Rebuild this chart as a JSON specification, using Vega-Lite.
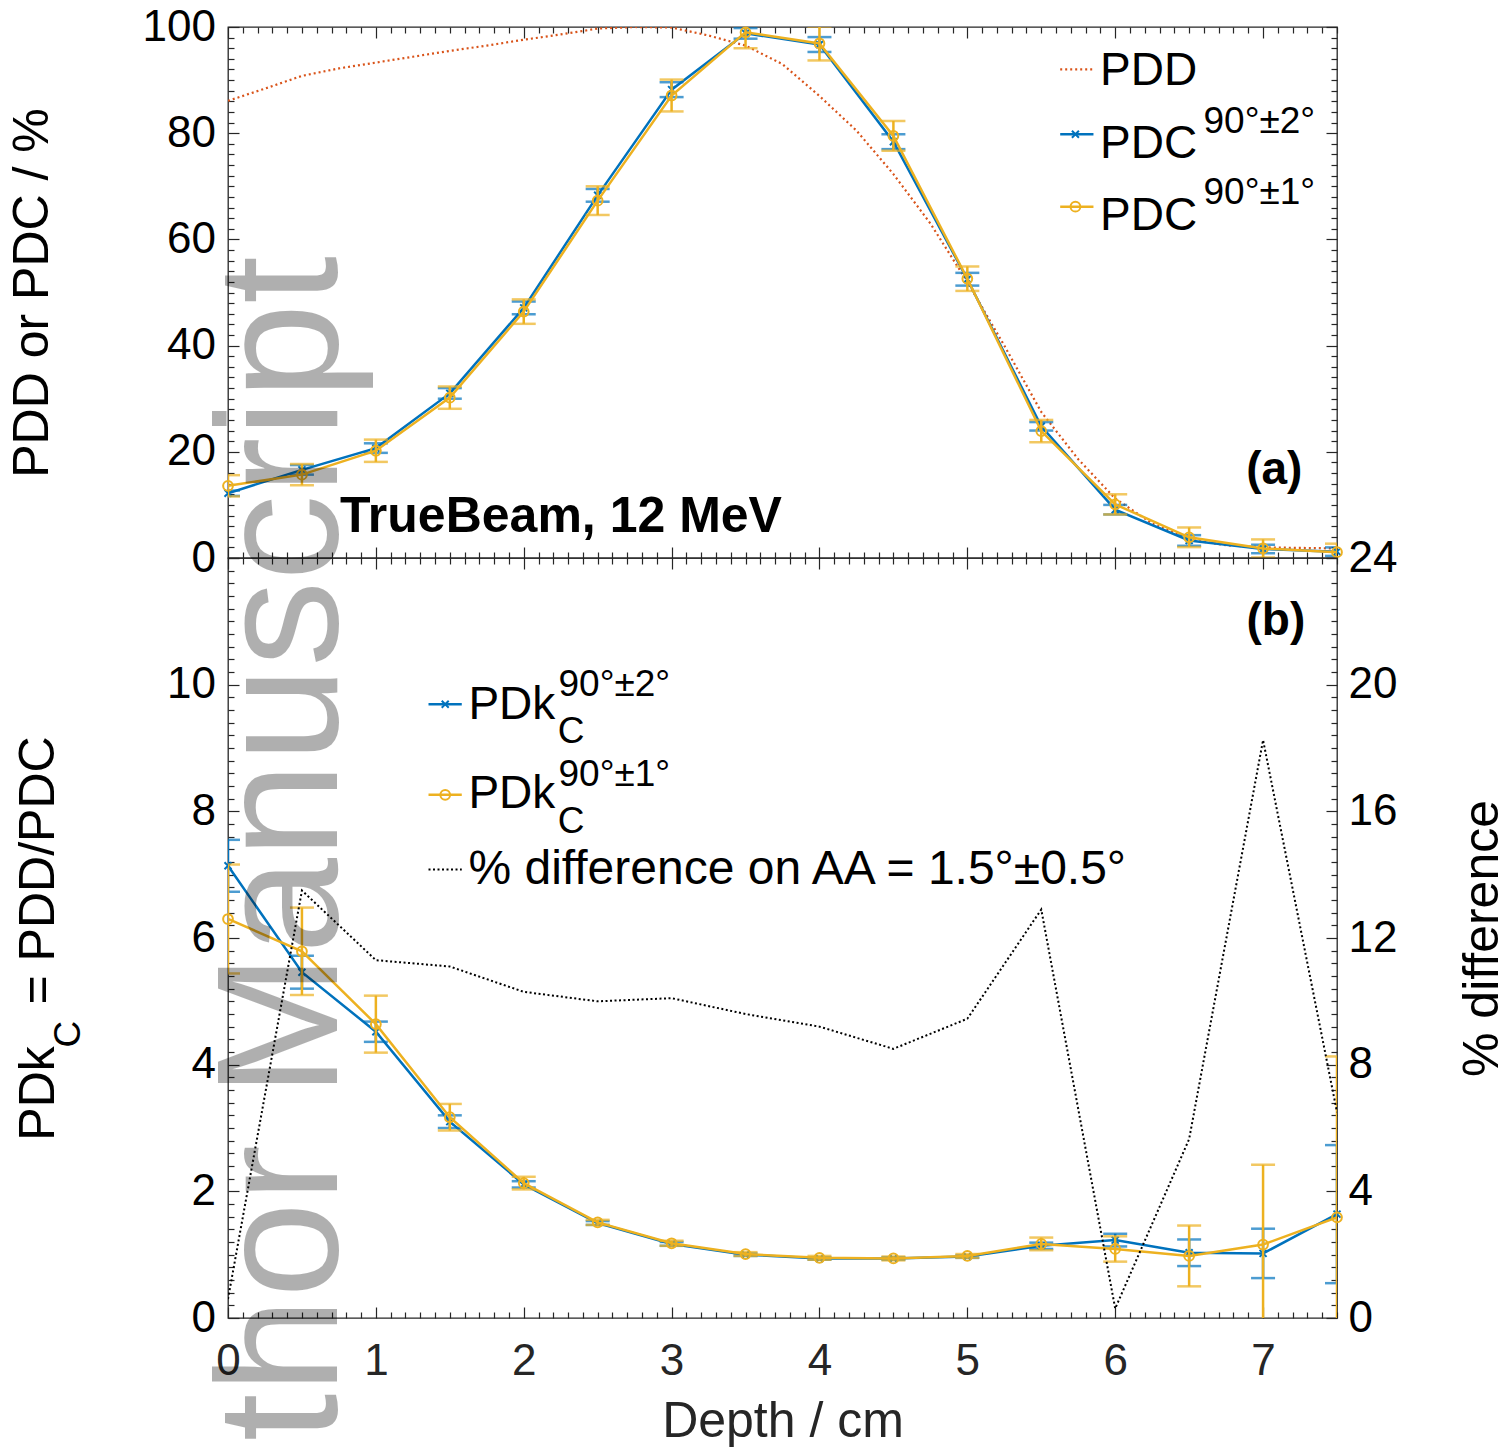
{
  "$schema": "https://vega.github.io/schema/vega-lite/v6.json",
  "background": "white",
  "padding": {"left": 6, "top": 4, "right": 5, "bottom": 5},
  "config": {
    "font": "Liberation Sans",
    "view": {"stroke": "#262626", "strokeWidth": 1.3},
    "axis": {"domain": false, "grid": false, "labelFont": "Liberation Sans", "labelFontSize": 44, "labelColor": "#000000", "tickColor": "#262626", "tickWidth": 1.2, "labelFlush": false, "labelOverlap": false, "labelBound": false, "titleFont": "Liberation Sans", "titleFontSize": 50, "titleFontWeight": "normal", "titleColor": "#000000"}
  },
  "datasets": {
    "top": [
      {"depth": 0, "s": "b", "v": 12.2, "lo": 11.7, "hi": 12.7},
      {"depth": 0.5, "s": "b", "v": 16.6, "lo": 15.7, "hi": 17.5},
      {"depth": 1, "s": "b", "v": 20.7, "lo": 19.8, "hi": 21.6},
      {"depth": 1.5, "s": "b", "v": 31.0, "lo": 30.0, "hi": 32.0},
      {"depth": 2, "s": "b", "v": 47.1, "lo": 45.9, "hi": 48.3},
      {"depth": 2.5, "s": "b", "v": 68.3, "lo": 67.1, "hi": 69.5},
      {"depth": 3, "s": "b", "v": 88.2, "lo": 86.8, "hi": 89.6},
      {"depth": 3.5, "s": "b", "v": 98.8, "lo": 97.8, "hi": 99.8},
      {"depth": 4, "s": "b", "v": 96.7, "lo": 95.3, "hi": 98.1},
      {"depth": 4.5, "s": "b", "v": 78.4, "lo": 77.0, "hi": 79.8},
      {"depth": 5, "s": "b", "v": 52.5, "lo": 51.3, "hi": 53.7},
      {"depth": 5.5, "s": "b", "v": 24.8, "lo": 24.0, "hi": 25.6},
      {"depth": 6, "s": "b", "v": 9.1, "lo": 8.2, "hi": 10.0},
      {"depth": 6.5, "s": "b", "v": 3.3, "lo": 2.3, "hi": 4.3},
      {"depth": 7, "s": "b", "v": 1.7, "lo": 0.9, "hi": 2.5},
      {"depth": 7.5, "s": "b", "v": 1.2, "lo": 0.4, "hi": 2.0},
      {"depth": 0, "s": "o", "v": 13.6, "lo": 11.6, "hi": 15.6},
      {"depth": 0.5, "s": "o", "v": 15.7, "lo": 13.7, "hi": 17.7},
      {"depth": 1, "s": "o", "v": 20.2, "lo": 18.1, "hi": 22.3},
      {"depth": 1.5, "s": "o", "v": 30.2, "lo": 28.1, "hi": 32.3},
      {"depth": 2, "s": "o", "v": 46.4, "lo": 44.1, "hi": 48.7},
      {"depth": 2.5, "s": "o", "v": 67.3, "lo": 64.6, "hi": 70.0},
      {"depth": 3, "s": "o", "v": 87.1, "lo": 84.1, "hi": 90.1},
      {"depth": 3.5, "s": "o", "v": 99.0, "lo": 96.0, "hi": 102.0},
      {"depth": 4, "s": "o", "v": 96.9, "lo": 93.7, "hi": 100.1},
      {"depth": 4.5, "s": "o", "v": 79.5, "lo": 76.7, "hi": 82.3},
      {"depth": 5, "s": "o", "v": 52.6, "lo": 50.3, "hi": 54.9},
      {"depth": 5.5, "s": "o", "v": 23.9, "lo": 21.8, "hi": 26.0},
      {"depth": 6, "s": "o", "v": 10.1, "lo": 8.2, "hi": 12.0},
      {"depth": 6.5, "s": "o", "v": 3.9, "lo": 2.05, "hi": 5.75},
      {"depth": 7, "s": "o", "v": 1.8, "lo": 0.1, "hi": 3.5},
      {"depth": 7.5, "s": "o", "v": 1.1, "lo": -0.5, "hi": 2.7}
    ],
    "pdd": [
      {"depth": 0, "pdd": 86.1}, {"depth": 0.25, "pdd": 88.4}, {"depth": 0.5, "pdd": 90.8},
      {"depth": 0.75, "pdd": 92.2}, {"depth": 1, "pdd": 93.3}, {"depth": 1.25, "pdd": 94.4},
      {"depth": 1.5, "pdd": 95.5}, {"depth": 1.75, "pdd": 96.5}, {"depth": 2, "pdd": 97.6},
      {"depth": 2.25, "pdd": 98.6}, {"depth": 2.5, "pdd": 99.7}, {"depth": 2.75, "pdd": 100.0},
      {"depth": 3, "pdd": 99.9}, {"depth": 3.25, "pdd": 98.4}, {"depth": 3.5, "pdd": 96.5},
      {"depth": 3.75, "pdd": 93.0}, {"depth": 4, "pdd": 87.0}, {"depth": 4.25, "pdd": 80.5},
      {"depth": 4.5, "pdd": 72.3}, {"depth": 4.75, "pdd": 63.0}, {"depth": 5, "pdd": 52.0},
      {"depth": 5.25, "pdd": 40.0}, {"depth": 5.5, "pdd": 27.5}, {"depth": 5.75, "pdd": 18.6},
      {"depth": 6, "pdd": 11.2}, {"depth": 6.25, "pdd": 6.5}, {"depth": 6.5, "pdd": 3.5},
      {"depth": 6.75, "pdd": 2.4}, {"depth": 7, "pdd": 2.0}, {"depth": 7.25, "pdd": 1.9},
      {"depth": 7.5, "pdd": 1.8}
    ],
    "bot": [
      {"depth": 0, "s": "b", "v": 7.14, "lo": 6.73, "hi": 7.55},
      {"depth": 0.5, "s": "b", "v": 5.46, "lo": 5.20, "hi": 5.72},
      {"depth": 1, "s": "b", "v": 4.52, "lo": 4.36, "hi": 4.68},
      {"depth": 1.5, "s": "b", "v": 3.10, "lo": 3.00, "hi": 3.20},
      {"depth": 2, "s": "b", "v": 2.11, "lo": 2.06, "hi": 2.16},
      {"depth": 2.5, "s": "b", "v": 1.50, "lo": 1.47, "hi": 1.53},
      {"depth": 3, "s": "b", "v": 1.17, "lo": 1.14, "hi": 1.20},
      {"depth": 3.5, "s": "b", "v": 1.00, "lo": 0.98, "hi": 1.02},
      {"depth": 4, "s": "b", "v": 0.94, "lo": 0.92, "hi": 0.96},
      {"depth": 4.5, "s": "b", "v": 0.94, "lo": 0.92, "hi": 0.96},
      {"depth": 5, "s": "b", "v": 0.97, "lo": 0.95, "hi": 0.99},
      {"depth": 5.5, "s": "b", "v": 1.14, "lo": 1.09, "hi": 1.19},
      {"depth": 6, "s": "b", "v": 1.23, "lo": 1.13, "hi": 1.33},
      {"depth": 6.5, "s": "b", "v": 1.03, "lo": 0.82, "hi": 1.24},
      {"depth": 7, "s": "b", "v": 1.02, "lo": 0.63, "hi": 1.41},
      {"depth": 7.5, "s": "b", "v": 1.64, "lo": 0.55, "hi": 2.73},
      {"depth": 0, "s": "o", "v": 6.30, "lo": 5.44, "hi": 7.16},
      {"depth": 0.5, "s": "o", "v": 5.79, "lo": 5.10, "hi": 6.48},
      {"depth": 1, "s": "o", "v": 4.64, "lo": 4.19, "hi": 5.09},
      {"depth": 1.5, "s": "o", "v": 3.17, "lo": 2.96, "hi": 3.38},
      {"depth": 2, "s": "o", "v": 2.13, "lo": 2.03, "hi": 2.23},
      {"depth": 2.5, "s": "o", "v": 1.51, "lo": 1.47, "hi": 1.55},
      {"depth": 3, "s": "o", "v": 1.18, "lo": 1.14, "hi": 1.22},
      {"depth": 3.5, "s": "o", "v": 1.01, "lo": 0.98, "hi": 1.04},
      {"depth": 4, "s": "o", "v": 0.95, "lo": 0.92, "hi": 0.98},
      {"depth": 4.5, "s": "o", "v": 0.94, "lo": 0.91, "hi": 0.97},
      {"depth": 5, "s": "o", "v": 0.98, "lo": 0.95, "hi": 1.01},
      {"depth": 5.5, "s": "o", "v": 1.17, "lo": 1.07, "hi": 1.27},
      {"depth": 6, "s": "o", "v": 1.09, "lo": 0.89, "hi": 1.29},
      {"depth": 6.5, "s": "o", "v": 0.98, "lo": 0.50, "hi": 1.46},
      {"depth": 7, "s": "o", "v": 1.16, "lo": -0.10, "hi": 2.42},
      {"depth": 7.5, "s": "o", "v": 1.59, "lo": -0.95, "hi": 4.13}
    ],
    "diff": [
      {"depth": 0, "diff": 0.6}, {"depth": 0.5, "diff": 13.5}, {"depth": 1, "diff": 11.3},
      {"depth": 1.5, "diff": 11.1}, {"depth": 2, "diff": 10.3}, {"depth": 2.5, "diff": 10.0},
      {"depth": 3, "diff": 10.1}, {"depth": 3.5, "diff": 9.6}, {"depth": 4, "diff": 9.2},
      {"depth": 4.5, "diff": 8.5}, {"depth": 5, "diff": 9.45}, {"depth": 5.5, "diff": 12.9},
      {"depth": 6, "diff": 0.3}, {"depth": 6.5, "diff": 5.65}, {"depth": 7, "diff": 18.25},
      {"depth": 7.5, "diff": 6.5}
    ]
  },
  "spacing": 0,
  "bounds": "flush",
  "vconcat": [
    {
      "width": 1109,
      "height": 531,
      "layer": [
        {
          "data": {"name": "pdd"},
          "mark": {"type": "line", "color": "#D95319", "strokeWidth": 2.2, "strokeDash": [2, 3], "clip": true},
          "encoding": {
            "x": {"field": "depth", "type": "quantitative", "scale": {"domain": [0, 7.5], "nice": false, "zero": false},
              "axis": {"orient": "top", "title": null, "labels": false, "tickCount": 1000,
                "values": [0,0.1,0.2,0.3,0.4,0.5,0.6,0.7,0.8,0.9,1,1.1,1.2,1.3,1.4,1.5,1.6,1.7,1.8,1.9,2,2.1,2.2,2.3,2.4,2.5,2.6,2.7,2.8,2.9,3,3.1,3.2,3.3,3.4,3.5,3.6,3.7,3.8,3.9,4,4.1,4.2,4.3,4.4,4.5,4.6,4.7,4.8,4.9,5,5.1,5.2,5.3,5.4,5.5,5.6,5.7,5.8,5.9,6,6.1,6.2,6.3,6.4,6.5,6.6,6.7,6.8,6.9,7,7.1,7.2,7.3,7.4,7.5],
                "tickSize": {"condition": {"test": "abs(datum.value - round(datum.value)) < 0.001", "value": -11}, "value": -6}}},
            "y": {"field": "pdd", "type": "quantitative", "scale": {"domain": [0, 100], "nice": false},
              "axis": {"orient": "right", "title": null, "labels": false, "tickCount": 1000,
                "values": [0,2,4,6,8,10,12,14,16,18,20,22,24,26,28,30,32,34,36,38,40,42,44,46,48,50,52,54,56,58,60,62,64,66,68,70,72,74,76,78,80,82,84,86,88,90,92,94,96,98,100],
                "tickSize": {"condition": {"test": "datum.value % 20 === 0", "value": -11}, "value": -6}}}
          }
        },
        {
          "data": {"name": "top"},
          "transform": [{"filter": "datum.s === 'b'"}],
          "mark": {"type": "rule", "color": "#0072BD", "strokeWidth": 2.5, "clip": true},
          "encoding": {
            "x": {"field": "depth", "type": "quantitative",
              "axis": {"orient": "bottom", "title": null, "labels": false, "tickCount": 1000,
                "values": [0,0.1,0.2,0.3,0.4,0.5,0.6,0.7,0.8,0.9,1,1.1,1.2,1.3,1.4,1.5,1.6,1.7,1.8,1.9,2,2.1,2.2,2.3,2.4,2.5,2.6,2.7,2.8,2.9,3,3.1,3.2,3.3,3.4,3.5,3.6,3.7,3.8,3.9,4,4.1,4.2,4.3,4.4,4.5,4.6,4.7,4.8,4.9,5,5.1,5.2,5.3,5.4,5.5,5.6,5.7,5.8,5.9,6,6.1,6.2,6.3,6.4,6.5,6.6,6.7,6.8,6.9,7,7.1,7.2,7.3,7.4,7.5],
                "tickSize": {"condition": {"test": "abs(datum.value - round(datum.value)) < 0.001", "value": -11}, "value": -6}}},
            "y": {"field": "lo", "type": "quantitative",
              "axis": {"orient": "left", "title": "PDD or PDC / %", "titleAngle": 270, "titleBaseline": "alphabetic", "titlePadding": 95, "labelPadding": 23.5, "tickCount": 1000,
                "values": [0,2,4,6,8,10,12,14,16,18,20,22,24,26,28,30,32,34,36,38,40,42,44,46,48,50,52,54,56,58,60,62,64,66,68,70,72,74,76,78,80,82,84,86,88,90,92,94,96,98,100],
                "labelExpr": "datum.value % 20 === 0 ? format(datum.value, 'd') : ''",
                "tickSize": {"condition": {"test": "datum.value % 20 === 0", "value": -11}, "value": -6}}},
            "y2": {"field": "hi"}
          }
        },
        {
          "data": {"name": "top"},
          "transform": [{"filter": "datum.s === 'b'"}, {"fold": ["lo", "hi"], "as": ["k", "yv"]}],
          "mark": {"type": "tick", "orient": "horizontal", "thickness": 2.5, "color": "#0072BD", "clip": true},
          "encoding": {
            "x": {"field": "depth", "type": "quantitative", "axis": null},
            "y": {"field": "yv", "type": "quantitative", "axis": null},
            "size": {"value": 24}
          }
        },
        {
          "data": {"name": "top"},
          "transform": [{"filter": "datum.s === 'b'"}],
          "mark": {"type": "line", "color": "#0072BD", "strokeWidth": 2.5, "clip": true},
          "encoding": {
            "x": {"field": "depth", "type": "quantitative", "axis": null},
            "y": {"field": "v", "type": "quantitative", "axis": null}
          }
        },
        {
          "data": {"name": "top"},
          "transform": [{"filter": "datum.s === 'b'"}],
          "mark": {"type": "point", "shape": "M-1,-1L1,1M-1,1L1,-1", "filled": false, "size": 49, "strokeWidth": 2, "color": "#0072BD", "opacity": 1},
          "encoding": {
            "x": {"field": "depth", "type": "quantitative", "axis": null},
            "y": {"field": "v", "type": "quantitative", "axis": null}
          }
        },
        {
          "data": {"name": "top"},
          "transform": [{"filter": "datum.s === 'o'"}],
          "mark": {"type": "rule", "color": "#EDB120", "strokeWidth": 2.5, "clip": true},
          "encoding": {
            "x": {"field": "depth", "type": "quantitative", "axis": null},
            "y": {"field": "lo", "type": "quantitative", "axis": null},
            "y2": {"field": "hi"}
          }
        },
        {
          "data": {"name": "top"},
          "transform": [{"filter": "datum.s === 'o'"}, {"fold": ["lo", "hi"], "as": ["k", "yv"]}],
          "mark": {"type": "tick", "orient": "horizontal", "thickness": 2.5, "color": "#EDB120", "clip": true},
          "encoding": {
            "x": {"field": "depth", "type": "quantitative", "axis": null},
            "y": {"field": "yv", "type": "quantitative", "axis": null},
            "size": {"value": 24}
          }
        },
        {
          "data": {"name": "top"},
          "transform": [{"filter": "datum.s === 'o'"}],
          "mark": {"type": "line", "color": "#EDB120", "strokeWidth": 2.5, "clip": true},
          "encoding": {
            "x": {"field": "depth", "type": "quantitative", "axis": null},
            "y": {"field": "v", "type": "quantitative", "axis": null}
          }
        },
        {
          "data": {"name": "top"},
          "transform": [{"filter": "datum.s === 'o'"}],
          "mark": {"type": "point", "shape": "circle", "filled": false, "size": 95, "strokeWidth": 2, "color": "#EDB120", "opacity": 1},
          "encoding": {
            "x": {"field": "depth", "type": "quantitative", "axis": null},
            "y": {"field": "v", "type": "quantitative", "axis": null}
          }
        },
        {
          "data": {"values": [{}]},
          "layer": [
            {"mark": {"type": "rule", "color": "#D95319", "strokeWidth": 2.2, "strokeDash": [2, 3]},
             "encoding": {"x": {"datum": 5.628, "type": "quantitative", "axis": null}, "x2": {"datum": 5.853}, "y": {"datum": 92.03, "type": "quantitative", "axis": null}}},
            {"mark": {"type": "text", "text": "PDD", "align": "left", "baseline": "alphabetic", "fontSize": 46, "color": "#000000"},
             "encoding": {"x": {"datum": 5.898, "type": "quantitative", "axis": null}, "y": {"datum": 89.08, "type": "quantitative", "axis": null}}},
            {"mark": {"type": "rule", "color": "#0072BD", "strokeWidth": 2.5},
             "encoding": {"x": {"datum": 5.628, "type": "quantitative", "axis": null}, "x2": {"datum": 5.853}, "y": {"datum": 79.79, "type": "quantitative", "axis": null}}},
            {"mark": {"type": "point", "shape": "M-1,-1L1,1M-1,1L1,-1", "filled": false, "size": 49, "strokeWidth": 2, "color": "#0072BD", "opacity": 1},
             "encoding": {"x": {"datum": 5.731, "type": "quantitative", "axis": null}, "y": {"datum": 79.79, "type": "quantitative", "axis": null}}},
            {"mark": {"type": "text", "text": "PDC", "align": "left", "baseline": "alphabetic", "fontSize": 46, "color": "#000000"},
             "encoding": {"x": {"datum": 5.898, "type": "quantitative", "axis": null}, "y": {"datum": 75.33, "type": "quantitative", "axis": null}}},
            {"mark": {"type": "text", "text": "90°±2°", "align": "left", "baseline": "alphabetic", "fontSize": 37, "color": "#000000"},
             "encoding": {"x": {"datum": 6.597, "type": "quantitative", "axis": null}, "y": {"datum": 80.09, "type": "quantitative", "axis": null}}},
            {"mark": {"type": "rule", "color": "#EDB120", "strokeWidth": 2.5},
             "encoding": {"x": {"datum": 5.628, "type": "quantitative", "axis": null}, "x2": {"datum": 5.853}, "y": {"datum": 66.16, "type": "quantitative", "axis": null}}},
            {"mark": {"type": "point", "shape": "circle", "filled": false, "size": 95, "strokeWidth": 2, "color": "#EDB120", "opacity": 1},
             "encoding": {"x": {"datum": 5.731, "type": "quantitative", "axis": null}, "y": {"datum": 66.16, "type": "quantitative", "axis": null}}},
            {"mark": {"type": "text", "text": "PDC", "align": "left", "baseline": "alphabetic", "fontSize": 46, "color": "#000000"},
             "encoding": {"x": {"datum": 5.898, "type": "quantitative", "axis": null}, "y": {"datum": 61.77, "type": "quantitative", "axis": null}}},
            {"mark": {"type": "text", "text": "90°±1°", "align": "left", "baseline": "alphabetic", "fontSize": 37, "color": "#000000"},
             "encoding": {"x": {"datum": 6.597, "type": "quantitative", "axis": null}, "y": {"datum": 66.67, "type": "quantitative", "axis": null}}},
            {"mark": {"type": "text", "text": "TrueBeam, 12 MeV", "align": "left", "baseline": "alphabetic", "fontSize": 50, "fontWeight": "bold", "color": "#000000"},
             "encoding": {"x": {"datum": 0.758, "type": "quantitative", "axis": null}, "y": {"datum": 4.9, "type": "quantitative", "axis": null}}},
            {"mark": {"type": "text", "text": "(a)", "align": "right", "baseline": "alphabetic", "fontSize": 46, "fontWeight": "bold", "color": "#000000"},
             "encoding": {"x": {"datum": 7.266, "type": "quantitative", "axis": null}, "y": {"datum": 13.94, "type": "quantitative", "axis": null}}}
          ]
        }
      ],
      "resolve": {"axis": {"x": "independent", "y": "independent"}}
    },
    {
      "width": 1109,
      "height": 760,
      "layer": [
        {
          "data": {"name": "bot"},
          "transform": [{"filter": "datum.s === 'b'"}],
          "mark": {"type": "rule", "color": "#0072BD", "strokeWidth": 2.5, "clip": true},
          "encoding": {
            "x": {"field": "depth", "type": "quantitative", "scale": {"domain": [0, 7.5], "nice": false, "zero": false},
              "axis": {"orient": "bottom", "title": "Depth / cm", "titleColor": "#262626", "titleBaseline": "alphabetic", "titlePadding": 48, "labelColor": "#262626", "labelPadding": 32, "tickCount": 1000,
                "values": [0,0.1,0.2,0.3,0.4,0.5,0.6,0.7,0.8,0.9,1,1.1,1.2,1.3,1.4,1.5,1.6,1.7,1.8,1.9,2,2.1,2.2,2.3,2.4,2.5,2.6,2.7,2.8,2.9,3,3.1,3.2,3.3,3.4,3.5,3.6,3.7,3.8,3.9,4,4.1,4.2,4.3,4.4,4.5,4.6,4.7,4.8,4.9,5,5.1,5.2,5.3,5.4,5.5,5.6,5.7,5.8,5.9,6,6.1,6.2,6.3,6.4,6.5,6.6,6.7,6.8,6.9,7,7.1,7.2,7.3,7.4,7.5],
                "labelExpr": "abs(datum.value - round(datum.value)) < 0.001 ? format(datum.value, 'd') : ''",
                "tickSize": {"condition": {"test": "abs(datum.value - round(datum.value)) < 0.001", "value": -11}, "value": -6}}},
            "y": {"field": "lo", "type": "quantitative", "scale": {"domain": [0, 12], "nice": false},
              "axis": {"orient": "left", "title": "PDk\u00a0\u00a0\u00a0= PDD/PDC", "titleAngle": 270, "titleBaseline": "alphabetic", "titlePadding": 113, "labelPadding": 23.5, "tickCount": 1000,
                "values": [0,0.2,0.4,0.6,0.8,1,1.2,1.4,1.6,1.8,2,2.2,2.4,2.6,2.8,3,3.2,3.4,3.6,3.8,4,4.2,4.4,4.6,4.8,5,5.2,5.4,5.6,5.8,6,6.2,6.4,6.6,6.8,7,7.2,7.4,7.6,7.8,8,8.2,8.4,8.6,8.8,9,9.2,9.4,9.6,9.8,10,10.2,10.4,10.6,10.8,11,11.2,11.4,11.6,11.8,12],
                "labelExpr": "datum.value < 10.5 && abs(datum.value/2 - round(datum.value/2)) < 0.001 ? format(datum.value, 'd') : ''",
                "tickSize": {"condition": {"test": "abs(datum.value/2 - round(datum.value/2)) < 0.001", "value": -11}, "value": -6}}},
            "y2": {"field": "hi"}
          }
        },
        {
          "layer": [
            {
              "data": {"name": "bot"},
              "transform": [{"filter": "datum.s === 'b'"}, {"fold": ["lo", "hi"], "as": ["k", "yv"]}],
              "mark": {"type": "tick", "orient": "horizontal", "thickness": 2.5, "color": "#0072BD", "clip": true},
              "encoding": {
                "x": {"field": "depth", "type": "quantitative", "axis": null},
                "y": {"field": "yv", "type": "quantitative", "scale": {"domain": [0, 12], "nice": false}, "axis": null},
                "size": {"value": 24}
              }
            },
            {
              "data": {"name": "bot"},
              "transform": [{"filter": "datum.s === 'b'"}],
              "mark": {"type": "line", "color": "#0072BD", "strokeWidth": 2.5, "clip": true},
              "encoding": {
                "x": {"field": "depth", "type": "quantitative", "axis": null},
                "y": {"field": "v", "type": "quantitative", "axis": null}
              }
            },
            {
              "data": {"name": "bot"},
              "transform": [{"filter": "datum.s === 'b'"}],
              "mark": {"type": "point", "shape": "M-1,-1L1,1M-1,1L1,-1", "filled": false, "size": 49, "strokeWidth": 2, "color": "#0072BD", "opacity": 1},
              "encoding": {
                "x": {"field": "depth", "type": "quantitative", "axis": null},
                "y": {"field": "v", "type": "quantitative", "axis": null}
              }
            },
            {
              "data": {"name": "bot"},
              "transform": [{"filter": "datum.s === 'o'"}],
              "mark": {"type": "rule", "color": "#EDB120", "strokeWidth": 2.5, "clip": true},
              "encoding": {
                "x": {"field": "depth", "type": "quantitative", "axis": null},
                "y": {"field": "lo", "type": "quantitative", "axis": null},
                "y2": {"field": "hi"}
              }
            },
            {
              "data": {"name": "bot"},
              "transform": [{"filter": "datum.s === 'o'"}, {"fold": ["lo", "hi"], "as": ["k", "yv"]}],
              "mark": {"type": "tick", "orient": "horizontal", "thickness": 2.5, "color": "#EDB120", "clip": true},
              "encoding": {
                "x": {"field": "depth", "type": "quantitative", "axis": null},
                "y": {"field": "yv", "type": "quantitative", "axis": null},
                "size": {"value": 24}
              }
            },
            {
              "data": {"name": "bot"},
              "transform": [{"filter": "datum.s === 'o'"}],
              "mark": {"type": "line", "color": "#EDB120", "strokeWidth": 2.5, "clip": true},
              "encoding": {
                "x": {"field": "depth", "type": "quantitative", "axis": null},
                "y": {"field": "v", "type": "quantitative", "axis": null}
              }
            },
            {
              "data": {"name": "bot"},
              "transform": [{"filter": "datum.s === 'o'"}],
              "mark": {"type": "point", "shape": "circle", "filled": false, "size": 95, "strokeWidth": 2, "color": "#EDB120", "opacity": 1},
              "encoding": {
                "x": {"field": "depth", "type": "quantitative", "axis": null},
                "y": {"field": "v", "type": "quantitative", "axis": null}
              }
            },
            {
              "data": {"values": [{}]},
              "layer": [
                {"mark": {"type": "text", "text": "(b)", "align": "right", "baseline": "alphabetic", "fontSize": 46, "fontWeight": "bold", "color": "#000000"},
                 "encoding": {"x": {"datum": 7.285, "type": "quantitative", "axis": null}, "y": {"datum": 10.79, "type": "quantitative", "axis": null}}},
                {"mark": {"type": "rule", "color": "#0072BD", "strokeWidth": 2.5},
                 "encoding": {"x": {"datum": 1.356, "type": "quantitative", "axis": null}, "x2": {"datum": 1.581}, "y": {"datum": 9.69, "type": "quantitative", "axis": null}}},
                {"mark": {"type": "point", "shape": "M-1,-1L1,1M-1,1L1,-1", "filled": false, "size": 49, "strokeWidth": 2, "color": "#0072BD", "opacity": 1},
                 "encoding": {"x": {"datum": 1.469, "type": "quantitative", "axis": null}, "y": {"datum": 9.69, "type": "quantitative", "axis": null}}},
                {"mark": {"type": "text", "text": "PDk", "align": "left", "baseline": "alphabetic", "fontSize": 46, "color": "#000000"},
                 "encoding": {"x": {"datum": 1.626, "type": "quantitative", "axis": null}, "y": {"datum": 9.46, "type": "quantitative", "axis": null}}},
                {"mark": {"type": "text", "text": "90°±2°", "align": "left", "baseline": "alphabetic", "fontSize": 37, "color": "#000000"},
                 "encoding": {"x": {"datum": 2.235, "type": "quantitative", "axis": null}, "y": {"datum": 9.82, "type": "quantitative", "axis": null}}},
                {"mark": {"type": "text", "text": "C", "align": "left", "baseline": "alphabetic", "fontSize": 37, "color": "#000000"},
                 "encoding": {"x": {"datum": 2.23, "type": "quantitative", "axis": null}, "y": {"datum": 9.08, "type": "quantitative", "axis": null}}},
                {"mark": {"type": "rule", "color": "#EDB120", "strokeWidth": 2.5},
                 "encoding": {"x": {"datum": 1.356, "type": "quantitative", "axis": null}, "x2": {"datum": 1.581}, "y": {"datum": 8.26, "type": "quantitative", "axis": null}}},
                {"mark": {"type": "point", "shape": "circle", "filled": false, "size": 95, "strokeWidth": 2, "color": "#EDB120", "opacity": 1},
                 "encoding": {"x": {"datum": 1.469, "type": "quantitative", "axis": null}, "y": {"datum": 8.26, "type": "quantitative", "axis": null}}},
                {"mark": {"type": "text", "text": "PDk", "align": "left", "baseline": "alphabetic", "fontSize": 46, "color": "#000000"},
                 "encoding": {"x": {"datum": 1.626, "type": "quantitative", "axis": null}, "y": {"datum": 8.06, "type": "quantitative", "axis": null}}},
                {"mark": {"type": "text", "text": "90°±1°", "align": "left", "baseline": "alphabetic", "fontSize": 37, "color": "#000000"},
                 "encoding": {"x": {"datum": 2.235, "type": "quantitative", "axis": null}, "y": {"datum": 8.40, "type": "quantitative", "axis": null}}},
                {"mark": {"type": "text", "text": "C", "align": "left", "baseline": "alphabetic", "fontSize": 37, "color": "#000000"},
                 "encoding": {"x": {"datum": 2.23, "type": "quantitative", "axis": null}, "y": {"datum": 7.66, "type": "quantitative", "axis": null}}},
                {"mark": {"type": "rule", "color": "#000000", "strokeWidth": 2, "strokeDash": [2, 2.5]},
                 "encoding": {"x": {"datum": 1.356, "type": "quantitative", "axis": null}, "x2": {"datum": 1.581}, "y": {"datum": 7.08, "type": "quantitative", "axis": null}}},
                {"mark": {"type": "text", "text": "% difference on AA = 1.5°±0.5°", "align": "left", "baseline": "alphabetic", "fontSize": 48, "color": "#000000"},
                 "encoding": {"x": {"datum": 1.626, "type": "quantitative", "axis": null}, "y": {"datum": 6.85, "type": "quantitative", "axis": null}}},
                {"mark": {"type": "text", "text": "C", "align": "left", "baseline": "alphabetic", "angle": 270, "fontSize": 37, "color": "#000000", "clip": false},
                 "encoding": {"x": {"datum": -1.0, "type": "quantitative", "axis": null}, "y": {"datum": 4.27, "type": "quantitative", "axis": null}}},
                {"mark": {"type": "text", "text": "Author Manuscript", "align": "right", "baseline": "alphabetic", "angle": 270, "fontSize": 172, "color": "#000000", "opacity": 0.31, "clip": false},
                 "encoding": {"x": {"datum": 0.734, "type": "quantitative", "axis": null}, "y": {"datum": 16.77, "type": "quantitative", "axis": null}}}
              ]
            }
          ]
        },
        {
          "data": {"name": "diff"},
          "mark": {"type": "line", "color": "#000000", "strokeWidth": 2, "strokeDash": [2, 2.5], "clip": true},
          "encoding": {
            "x": {"field": "depth", "type": "quantitative",
              "axis": {"orient": "top", "title": null, "labels": false, "tickCount": 1000,
                "values": [0,0.1,0.2,0.3,0.4,0.5,0.6,0.7,0.8,0.9,1,1.1,1.2,1.3,1.4,1.5,1.6,1.7,1.8,1.9,2,2.1,2.2,2.3,2.4,2.5,2.6,2.7,2.8,2.9,3,3.1,3.2,3.3,3.4,3.5,3.6,3.7,3.8,3.9,4,4.1,4.2,4.3,4.4,4.5,4.6,4.7,4.8,4.9,5,5.1,5.2,5.3,5.4,5.5,5.6,5.7,5.8,5.9,6,6.1,6.2,6.3,6.4,6.5,6.6,6.7,6.8,6.9,7,7.1,7.2,7.3,7.4,7.5],
                "tickSize": {"condition": {"test": "abs(datum.value - round(datum.value)) < 0.001", "value": -11}, "value": -6}}},
            "y": {"field": "diff", "type": "quantitative", "scale": {"domain": [0, 24], "nice": false},
              "axis": {"orient": "right", "title": "% difference", "titleAngle": 270, "titleBaseline": "alphabetic", "titlePadding": 101, "labelPadding": 22, "tickCount": 1000,
                "values": [0,0.4,0.8,1.2,1.6,2,2.4,2.8,3.2,3.6,4,4.4,4.8,5.2,5.6,6,6.4,6.8,7.2,7.6,8,8.4,8.8,9.2,9.6,10,10.4,10.8,11.2,11.6,12,12.4,12.8,13.2,13.6,14,14.4,14.8,15.2,15.6,16,16.4,16.8,17.2,17.6,18,18.4,18.8,19.2,19.6,20,20.4,20.8,21.2,21.6,22,22.4,22.8,23.2,23.6,24],
                "labelExpr": "abs(datum.value/4 - round(datum.value/4)) < 0.001 ? format(datum.value, 'd') : ''",
                "tickSize": {"condition": {"test": "abs(datum.value/4 - round(datum.value/4)) < 0.001", "value": -11}, "value": -6}}}
          }
        }
      ],
      "resolve": {"scale": {"y": "independent"}, "axis": {"x": "independent", "y": "independent"}}
    }
  ]
}
